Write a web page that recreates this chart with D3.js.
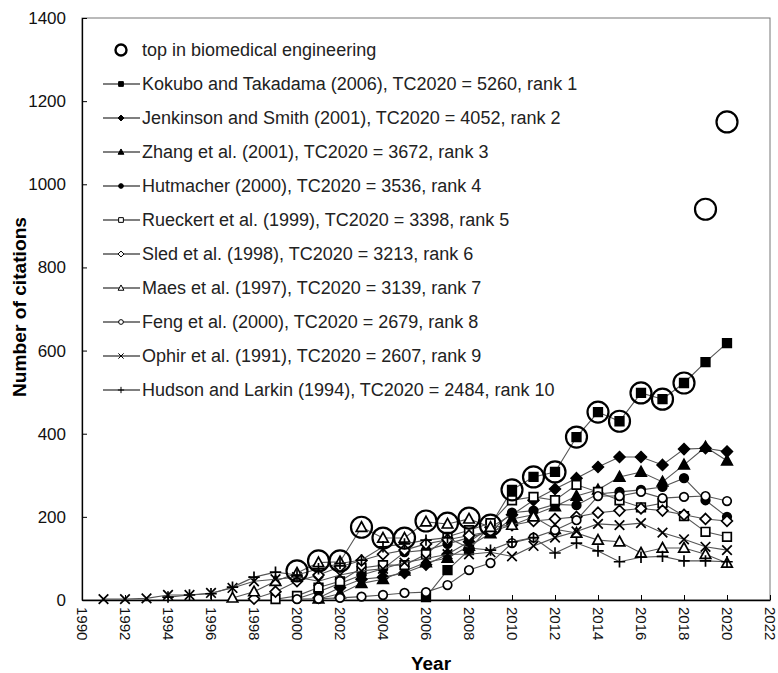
<!DOCTYPE html>
<html>
<head>
<meta charset="utf-8">
<script src="https://cdn.jsdelivr.net/npm/d3@7"></script>
<style>
  body { margin: 0; background: #fff; }
  svg { display: block; font-family: Arial, "Liberation Sans", sans-serif; }
</style>
</head>
<body>
<div id="display"></div>
<script>
const w = 778;
const h = 673;

// tick labels
const yTicks = [0, 200, 400, 600, 800, 1000, 1200, 1400];
const xTicks = d3.range(1990, 2023, 2);

// top paper in biomedical engineering each year (circles only)
const topStart = 2000;
const topVals = [70, 94, 94, 175, 149, 149, 190, 185, 197, 180, 265, 296, 308, 392, 452, 430, 498, 483, 522, 940, 1150];

// series, first year + yearly citations
const names = [
    "Kokubo and Takadama (2006), TC2020 = 5260, rank 1",
    "Jenkinson and Smith (2001), TC2020 = 4052, rank 2",
    "Zhang et al. (2001), TC2020 = 3672, rank 3",
    "Hutmacher (2000), TC2020 = 3536, rank 4",
    "Rueckert et al. (1999), TC2020 = 3398, rank 5",
    "Sled et al. (1998), TC2020 = 3213, rank 6",
    "Maes et al. (1997), TC2020 = 3139, rank 7",
    "Feng et al. (2000), TC2020 = 2679, rank 8",
    "Ophir et al. (1991), TC2020 = 2607, rank 9",
    "Hudson and Larkin (1994), TC2020 = 2484, rank 10"
];
const startYears = [2006, 2001, 2001, 2000, 1999, 1998, 1997, 2000, 1991, 1994];
const shapes = ["square", "diamond", "triangle", "circle", "square", "diamond", "triangle", "circle", "x", "plus"];
const filled = [true, true, true, true, false, false, false, false, false, false];

const kokubo = [7, 72, 120, 180, 265, 296, 308, 392, 452, 430, 498, 483, 522, 572, 618];
const jenkinson = [5, 30, 50, 55, 65, 85, 110, 140, 175, 205, 240, 267, 293, 320, 344, 344, 325, 363, 365, 357];
const zhang = [3, 15, 40, 50, 70, 90, 101, 130, 160, 195, 205, 225, 250, 265, 296, 308, 284, 325, 368, 335];
const hutmacher = [3, 20, 40, 60, 75, 115, 120, 135, 150, 165, 210, 215, 230, 228, 255, 260, 265, 272, 293, 240, 200];
const rueckert = [2, 10, 30, 45, 77, 84, 84, 110, 152, 168, 185, 240, 248, 240, 277, 260, 240, 223, 233, 202, 164, 152];
const sled = [3, 20, 45, 60, 80, 95, 110, 120, 135, 145, 155, 165, 180, 190, 195, 200, 210, 215, 220, 215, 205, 195, 190];
const maes = [5, 20, 45, 65, 90, 92, 175, 149, 149, 188, 183, 195, 175, 180, 200, 170, 161, 144, 140, 113, 125, 125, 110, 89];
const feng = [2, 3, 5, 8, 12, 17, 19, 36, 72, 89, 137, 150, 168, 192, 250, 250, 260, 245, 248, 250, 238];
const ophir = [2, 2, 4, 12, 12, 17, 29, 45, 50, 55, 45, 60, 70, 75, 90, 100, 110, 110, 115, 105, 130, 150, 165, 183, 180, 185, 162, 146, 128, 120];
const hudson = [7, 12, 15, 31, 55, 67, 60, 75, 88, 96, 128, 135, 144, 150, 125, 120, 140, 150, 113, 137, 118, 92, 103, 105, 94, 94, 92];

const allVals = [kokubo, jenkinson, zhang, hutmacher, rueckert, sled, maes, feng, ophir, hudson];

const toPoints = (start, vals) => vals.map((v, i) => ({ year: start + i, value: v }));

const markerPath = (type, s) => {
    switch (type) {
        case "square": return `M${-s},${-s}H${s}V${s}H${-s}Z`;
        case "diamond": return `M0,${-s * 1.25}L${s * 1.25},0L0,${s * 1.25}L${-s * 1.25},0Z`;
        case "triangle": return `M0,${-s * 1.15}L${s * 1.1},${s * 0.85}L${-s * 1.1},${s * 0.85}Z`;
        case "circle": return `M${s},0A${s},${s} 0 1,1 ${-s},0A${s},${s} 0 1,1 ${s},0Z`;
        case "x": return `M${-s},${-s}L${s},${s}M${-s},${s}L${s},${-s}`;
        case "plus": return `M${-s * 1.1},0H${s * 1.1}M0,${-s * 1.1}V${s * 1.1}`;
    }
};

const markerSize = { square: 4.3, diamond: 4.3, triangle: 4.8, circle: 4.3, x: 4.8, plus: 5.2 };

const viz = d3.select("#display").append("svg")
    .attr("width", w)
    .attr("height", h);

const xScale = d3.scaleLinear().domain([1990, 2022]).range([82, 770]);
const yScale = d3.scaleLinear().domain([0, 1400]).range([600, 18]);

// frame
viz.append("rect")
    .attr("x", xScale(1990))
    .attr("y", yScale(1400))
    .attr("width", xScale(2022) - xScale(1990))
    .attr("height", yScale(0) - yScale(1400))
    .style("fill", "none")
    .style("stroke", "#777")
    .style("stroke-width", 1);

const yAxisGroup = viz.append("g")
    .attr("transform", `translate(${xScale(1990)},0)`)
    .call(d3.axisLeft(yScale).tickValues(yTicks).tickFormat(d3.format("d")).tickSizeInner(-5).tickSizeOuter(0).tickPadding(16));
yAxisGroup.select(".domain").style("stroke", "#000").style("stroke-width", 1.3);
yAxisGroup.selectAll("text")
    .style("font-size", "17px")
    .style("fill", "#111");

const xAxisGroup = viz.append("g")
    .attr("transform", `translate(0,${yScale(0)})`)
    .call(d3.axisBottom(xScale).tickValues(xTicks).tickFormat(d3.format("d")).tickSizeInner(-5).tickSizeOuter(0));
xAxisGroup.select(".domain").style("stroke", "#000").style("stroke-width", 1.3);
xAxisGroup.selectAll("text")
    .attr("transform", "rotate(90)")
    .attr("x", 7)
    .attr("y", 0)
    .attr("dy", "0.35em")
    .style("text-anchor", "start")
    .style("font-size", "15px")
    .style("fill", "#111");

// axis titles
viz.append("text")
    .attr("transform", `translate(26,${(yScale(0) + yScale(1400)) / 2 - 2}) rotate(-90)`)
    .attr("text-anchor", "middle")
    .attr("textLength", 180)
    .attr("lengthAdjust", "spacingAndGlyphs")
    .style("font-weight", "bold")
    .style("font-size", "18px")
    .text("Number of citations");

viz.append("text")
    .attr("x", 431)
    .attr("y", 670)
    .attr("text-anchor", "middle")
    .attr("textLength", 40)
    .attr("lengthAdjust", "spacingAndGlyphs")
    .style("font-weight", "bold")
    .style("font-size", "18px")
    .text("Year");

// series
const line = d3.line()
    .x((d) => xScale(d.year))
    .y((d) => yScale(d.value));

const plot = viz.append("g").attr("class", "plot");

allVals.forEach((vals, i) => {
    const pts = toPoints(startYears[i], vals);
    const g = plot.append("g").attr("class", `series series-${i}`);
    g.append("path")
        .attr("d", line(pts))
        .style("fill", "none")
        .style("stroke", "#555")
        .style("stroke-width", 1.1);
    g.selectAll(".mark")
        .data(pts)
        .enter()
        .append("path")
        .attr("class", "mark")
        .attr("transform", (d) => `translate(${xScale(d.year)},${yScale(d.value)})`)
        .attr("d", markerPath(shapes[i], markerSize[shapes[i]]))
        .style("fill", filled[i] ? "#000" : "#fff")
        .style("stroke", "#000")
        .style("stroke-width", 1.7);
});

// top in biomedical engineering
plot.append("g").selectAll("circle")
    .data(toPoints(topStart, topVals))
    .enter()
    .append("circle")
    .attr("cx", (d) => xScale(d.year))
    .attr("cy", (d) => yScale(d.value))
    .attr("r", 10.5)
    .style("fill", "none")
    .style("stroke", "#000")
    .style("stroke-width", 2.2);

// legend
const legend = viz.append("g").attr("class", "legend");
const legendX = 103;
const legendY = 50;
const legendStep = 34;

legend.append("circle")
    .attr("cx", legendX + 18)
    .attr("cy", legendY)
    .attr("r", 5.5)
    .style("fill", "none")
    .style("stroke", "#000")
    .style("stroke-width", 2.4);
legend.append("text")
    .attr("x", legendX + 39)
    .attr("y", legendY)
    .attr("dy", "0.35em")
    .style("font-size", "18px")
    .style("fill", "#222")
    .text("top in biomedical engineering");

names.forEach((name, i) => {
    const y = legendY + legendStep * (i + 1);
    legend.append("line")
        .attr("x1", legendX)
        .attr("x2", legendX + 37)
        .attr("y1", y)
        .attr("y2", y)
        .style("stroke", "#000")
        .style("stroke-width", 1.1);
    legend.append("path")
        .attr("transform", `translate(${legendX + 18},${y})`)
        .attr("d", markerPath(shapes[i], markerSize[shapes[i]] * 0.55))
        .style("fill", filled[i] ? "#000" : "#fff")
        .style("stroke", "#000")
        .style("stroke-width", 1);
    legend.append("text")
        .attr("x", legendX + 39)
        .attr("y", y)
        .attr("dy", "0.35em")
        .style("font-size", "18px")
        .style("fill", "#222")
        .text(name);
});
</script>
</body>
</html>
